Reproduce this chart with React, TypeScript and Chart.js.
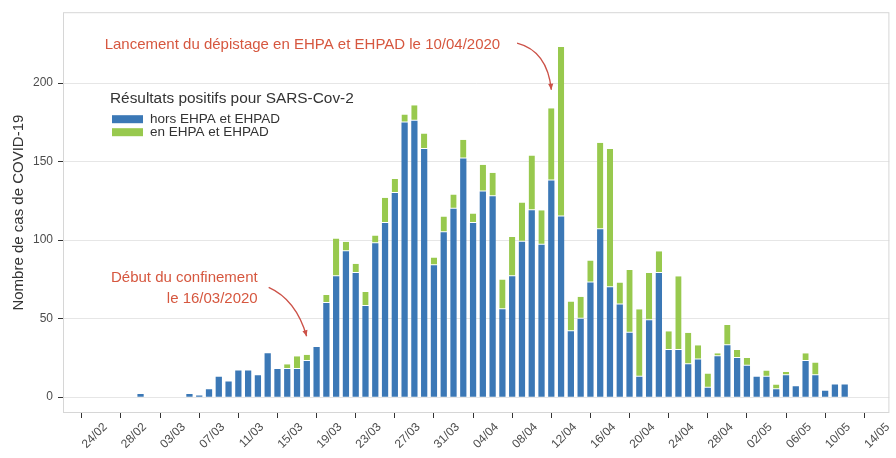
import React, { useEffect, useRef } from "react";
import { Chart, registerables } from "chart.js";

Chart.register(...registerables);

// ---- Data ----
const dates = [
  "28/02", "29/02", "01/03", "02/03", "03/03", "04/03", "05/03", "06/03", "07/03", "08/03",
  "09/03", "10/03", "11/03", "12/03", "13/03", "14/03", "15/03", "16/03", "17/03", "18/03",
  "19/03", "20/03", "21/03", "22/03", "23/03", "24/03", "25/03", "26/03", "27/03", "28/03",
  "29/03", "30/03", "31/03", "01/04", "02/04", "03/04", "04/04", "05/04", "06/04", "07/04",
  "08/04", "09/04", "10/04", "11/04", "12/04", "13/04", "14/04", "15/04", "16/04", "17/04",
  "18/04", "19/04", "20/04", "21/04", "22/04", "23/04", "24/04", "25/04", "26/04", "27/04",
  "28/04", "29/04", "30/04", "01/05", "02/05", "03/05", "04/05", "05/05", "06/05", "07/05",
  "08/05", "09/05", "10/05",
];

const horsEhpad = [
  2, 0, 0, 0, 0, 2, 1, 5, 13, 10,
  17, 17, 14, 28, 18, 18, 18, 23, 32, 60,
  77, 93, 79, 58, 98, 111, 130, 175, 176, 158,
  84, 105, 120, 152, 111, 131, 128, 56, 77, 99,
  119, 97, 138, 115, 42, 50, 73, 107, 70, 59,
  41, 13, 49, 79, 30, 30, 21, 24, 6, 26,
  33, 25, 20, 13, 13, 5, 14, 7, 23, 14,
  4, 8, 8,
];

const enEhpad = [
  0, 0, 0, 0, 0, 0, 0, 0, 0, 0,
  0, 0, 0, 0, 0, 3, 8, 4, 0, 5,
  24, 6, 6, 9, 5, 16, 9, 5, 10, 10,
  5, 10, 9, 12, 6, 17, 15, 19, 25, 25,
  35, 22, 46, 108, 19, 14, 14, 55, 88, 14,
  40, 43, 30, 14, 12, 47, 20, 9, 9, 2,
  13, 5, 5, 0, 4, 3, 2, 0, 5, 8,
  0, 0, 0,
];

const xTickLabels = [
  "24/02", "28/02", "03/03", "07/03", "11/03", "15/03", "19/03", "23/03", "27/03", "31/03",
  "04/04", "08/04", "12/04", "16/04", "20/04", "24/04", "28/04", "02/05", "06/05", "10/05", "14/05",
];

const yTicks = [0, 50, 100, 150, 200];

const seriesNames = ["hors EHPA et EHPAD", "en EHPA et EHPAD"];
const legendTitle = "Résultats positifs pour SARS-Cov-2";
const yTitle = "Nombre de cas de COVID-19";
const note1 = "Lancement du dépistage en EHPA et EHPAD le 10/04/2020";
const note2 = ["Début du confinement", "le 16/03/2020"];

// ---- Styles ----
const BLUE = "#3b78b6";
const GREEN = "#98c94e";
const NOTE = "#d6573f";
const ARROW = "#cc5248";
const FONT = "'Liberation Sans', Arial, sans-serif";

function dayIndex(s: string): number {
  const [d, m] = s.split("/").map(Number);
  return Math.round((Date.UTC(2020, m - 1, d) - Date.UTC(2020, 1, 24)) / 86400000);
}

const tickMap: Record<number, string> = {};
xTickLabels.forEach((l) => {
  tickMap[dayIndex(l)] = l;
});

const overlayPlugin = {
  id: "overlay",
  beforeDatasetsDraw(chart: any) {
    const { ctx, chartArea } = chart;
    ctx.save();
    ctx.strokeStyle = "#d6d6d6";
    ctx.lineWidth = 1;
    ctx.strokeRect(chartArea.left + 0.5, chartArea.top + 0.5, chartArea.right - chartArea.left - 1, chartArea.bottom - chartArea.top - 1);
    ctx.restore();
  },
  afterDatasetsDraw(chart: any) {
    const { ctx, chartArea, scales } = chart;
    const X = (v: number) => scales.x.getPixelForValue(v);
    const Y = (v: number) => scales.y.getPixelForValue(v);
    ctx.save();

    // legend
    const lx = chartArea.left + 47;
    const ly = chartArea.top + 87;
    ctx.fillStyle = "#333333";
    ctx.font = `15.4px ${FONT}`;
    ctx.textAlign = "left";
    ctx.textBaseline = "middle";
    ctx.fillText(legendTitle, lx, ly);
    const cols = [BLUE, GREEN];
    seriesNames.forEach((n, i) => {
      const yy = ly + 20 + i * 13;
      ctx.fillStyle = cols[i];
      ctx.fillRect(lx + 2, yy - 4, 31, 8);
      ctx.fillStyle = "#333333";
      ctx.font = `13.5px ${FONT}`;
      ctx.fillText(n, lx + 40, yy);
    });

    // annotation texts
    ctx.fillStyle = NOTE;
    ctx.font = `15px ${FONT}`;
    ctx.textAlign = "left";
    ctx.fillText(note1, X(0.33), Y(224.5));
    ctx.textAlign = "right";
    ctx.fillText(note2[0], X(15.98), Y(76));
    ctx.fillText(note2[1], X(15.98), Y(62.7));

    // arrows
    const arrow = (sx: number, sy: number, cx: number, cy: number, ex: number, ey: number) => {
      ctx.strokeStyle = ARROW;
      ctx.lineWidth = 1.4;
      ctx.beginPath();
      ctx.moveTo(sx, sy);
      ctx.quadraticCurveTo(cx, cy, ex, ey);
      ctx.stroke();
      const ang = Math.atan2(ey - cy, ex - cx);
      const L = 6, W = 2.6;
      ctx.fillStyle = ARROW;
      ctx.beginPath();
      ctx.moveTo(ex, ey);
      ctx.lineTo(ex - L * Math.cos(ang) + W * Math.sin(ang), ey - L * Math.sin(ang) - W * Math.cos(ang));
      ctx.lineTo(ex - L * Math.cos(ang) - W * Math.sin(ang), ey - L * Math.sin(ang) + W * Math.cos(ang));
      ctx.closePath();
      ctx.fill();
    };
    arrow(X(42.5), Y(225.5), X(45.6), Y(220.5), X(46), Y(195.8));
    arrow(X(17.1), Y(69.9), X(19.9), Y(62.1), X(20.98), Y(38.8));

    ctx.restore();
  },
};

export default function App() {
  const ref = useRef<HTMLCanvasElement | null>(null);

  useEffect(() => {
    document.body.style.margin = "0";
    const canvas = ref.current;
    if (!canvas) return;
    const chart = new Chart(canvas, {
      type: "bar",
      data: {
        datasets: [
          {
            label: seriesNames[0],
            data: dates.map((d, i) => ({ x: dayIndex(d), y: horsEhpad[i] })),
            backgroundColor: BLUE,
            borderWidth: 0,
            categoryPercentage: 1,
            barPercentage: 0.64,
          },
          {
            label: seriesNames[1],
            data: dates.map((d, i) => ({ x: dayIndex(d), y: enEhpad[i] })),
            backgroundColor: GREEN,
            borderColor: "#ffffff",
            borderWidth: { top: 0, left: 0, right: 0, bottom: 1 },
            borderSkipped: false,
            categoryPercentage: 1,
            barPercentage: 0.64,
          },
        ],
      } as any,
      options: {
        animation: false,
        responsive: false,
        maintainAspectRatio: false,
        layout: { padding: { top: 10, right: 1, left: 0, bottom: 0 } },
        plugins: { legend: { display: false }, tooltip: { enabled: false } },
        scales: {
          x: {
            type: "linear",
            stacked: true,
            min: -3.93,
            max: 80.57,
            offset: false,
            afterBuildTicks: (s: any) => {
              s.ticks = xTickLabels.map((l) => ({ value: dayIndex(l) }));
            },
            afterFit: (s: any) => {
              s.height = 45;
            },
            ticks: {
              autoSkip: false,
              maxRotation: 45,
              minRotation: 45,
              padding: 2,
              labelOffset: 4,
              color: "#4d4d4d",
              font: { family: FONT, size: 12 },
              callback: (v: any) => tickMap[v as number] ?? "",
            },
            grid: { drawOnChartArea: false, drawTicks: true, tickLength: 5, tickColor: "#333333", tickWidth: 1 },
            border: { display: false },
          },
          y: {
            stacked: true,
            min: -10.1,
            max: 245.2,
            afterBuildTicks: (s: any) => {
              s.ticks = yTicks.map((v) => ({ value: v }));
            },
            afterFit: (s: any) => {
              s.width = 63;
            },
            ticks: {
              padding: 5,
              color: "#4d4d4d",
              font: { family: FONT, size: 12 },
            },
            grid: { color: "#e6e6e6", lineWidth: 1, drawTicks: true, tickLength: 5, tickColor: "#333333", tickWidth: 1 },
            border: { display: false },
            title: {
              display: true,
              text: yTitle,
              color: "#333333",
              font: { family: FONT, size: 15 },
              padding: { top: 10, bottom: 0 },
            },
          },
        },
      } as any,
      plugins: [overlayPlugin],
    });
    return () => chart.destroy();
  }, []);

  return (
    <div style={{ position: "absolute", left: 0, top: 0, width: 896, height: 458, background: "#fff" }}>
      <canvas ref={ref} width={896} height={458} />
    </div>
  );
}
